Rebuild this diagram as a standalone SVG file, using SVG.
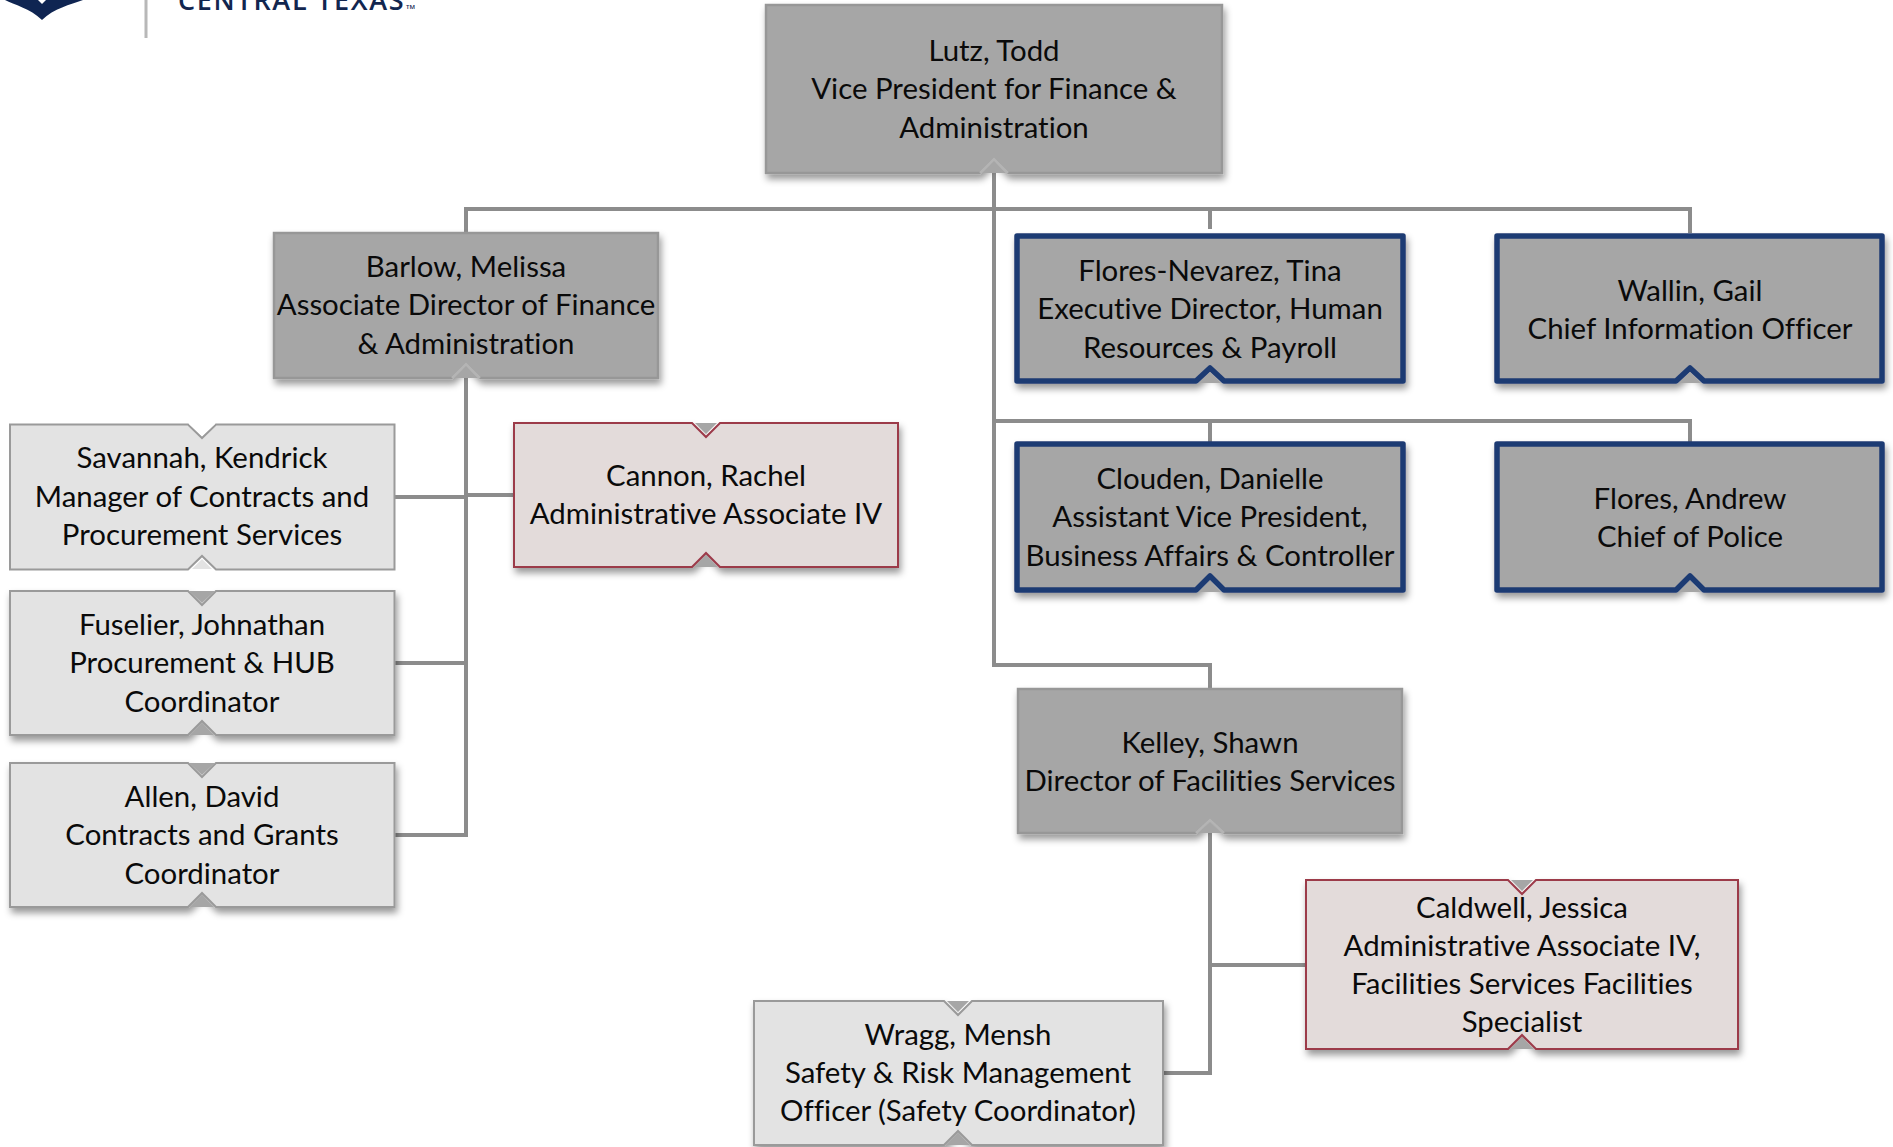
<svg xmlns="http://www.w3.org/2000/svg" width="1893" height="1147" viewBox="0 0 1893 1147">
<defs>
<filter id="sh" x="-5%" y="-5%" width="112%" height="125%"><feDropShadow dx="2" dy="5" stdDeviation="3.5" flood-color="#000" flood-opacity="0.4"/></filter>
</defs>
<style>
text{font-family:Lato,"Liberation Sans",sans-serif;font-size:29.4px;fill:#0a0a0a;text-anchor:middle;font-variant-ligatures:none;transform:translateY(.6px)}
.dark{fill:#a6a6a6;stroke:#979797;stroke-width:2.5}
.light{fill:#e3e3e3;stroke:#9a9a9a;stroke-width:2}
.pink{fill:#e3dbda;stroke:#9c3a4a;stroke-width:2}
.navy{fill:#a6a6a6;stroke:#1f3a73;stroke-width:5.5;stroke-linejoin:round}
.s{filter:url(#sh)}
.gn{fill:#a6a6a6;stroke:none}
.wn{fill:#fff;stroke:none}
.ln{fill:#e3e3e3;stroke:none}
.cr{fill:none;stroke:#b4b4b4;stroke-width:2.5}
#connectors path{fill:none;stroke:#8c8c8c;stroke-width:4}
#logo text{font-family:"Open Sans","Liberation Sans",sans-serif;font-weight:600;fill:#12264f;text-anchor:start}
</style>
<g id="logo">
<path d="M5 0C14 5 30 8 42 20C54 8 70 5 83 0Z" fill="#0f2552"/>
<path d="M38 0L42 4L46 0Z" fill="#fff"/>
<rect x="144.500" y="0" width="3" height="38" fill="#b8b8b8"/>
<text x="178" y="9.500" style="font-size:27px;letter-spacing:1.7px">CENTRAL TEXAS</text>
<text x="406" y="8.500" style="font-size:6px">TM</text>
</g>
<g id="connectors">
<path d="M994 173V665H1210V689"/>
<path d="M466 233V209H1690V233"/>
<path d="M1210 209V229"/>
<path d="M994 421H1690V442"/>
<path d="M1210 421V442"/>
<path d="M466 378V835H395"/>
<path d="M395 497H466"/>
<path d="M466 495H513"/>
<path d="M395 663H466"/>
<path d="M1210 833V1073H1163"/>
<path d="M1210 965H1305"/>
</g>
<g id="lutz">
<path class="dark s" d="M766 5H1222V173H1008L994 159L980 173H766Z"/>
<path class="gn" d="M982 173L994 161L1006 173Z"/><path class="cr" d="M980 173L994 159L1008 173"/>
<text x="994" y="60">Lutz, Todd</text><text x="994" y="98.500">Vice President for Finance &amp;</text><text x="994" y="137">Administration</text>
</g>
<g id="barlow">
<path class="dark s" d="M274 233H658V378H480L466 364L452 378H274Z"/>
<path class="gn" d="M454 378L466 366L478 378Z"/><path class="cr" d="M452 378L466 364L480 378"/>
<text x="466" y="276">Barlow, Melissa</text><text x="466" y="314.500">Associate Director of Finance</text><text x="466" y="353">&amp; Administration</text>
</g>
<g id="savannah">
<path class="light" d="M10 424.500H188L202 438L216 424.500H394.500V569.500H216L202 556L188 569.500H10Z"/>
<path class="wn" d="M189 424L202 436L215 424Z"/><path class="ln" d="M192 569L202 559L212 569Z"/>
<text x="202" y="467.500">Savannah, Kendrick</text><text x="202" y="506">Manager of Contracts and</text><text x="202" y="544.500">Procurement Services</text>
</g>
<g id="fuselier">
<path class="light s" d="M10 591H188L202 605L216 591H394.500V735H216L202 721L188 735H10Z"/>
<path class="gn" d="M189 591L202 603L215 591Z"/><path class="gn" d="M190 735L202 723L214 735Z"/>
<text x="202" y="634">Fuselier, Johnathan</text><text x="202" y="672.500">Procurement &amp; HUB</text><text x="202" y="711">Coordinator</text>
</g>
<g id="allen">
<path class="light s" d="M10 763H188L202 777L216 763H394.500V907H216L202 893L188 907H10Z"/>
<path class="gn" d="M189 763L202 775L215 763Z"/><path class="gn" d="M190 907L202 895L214 907Z"/>
<text x="202" y="806">Allen, David</text><text x="202" y="844.500">Contracts and Grants</text><text x="202" y="883">Coordinator</text>
</g>
<g id="cannon">
<path class="pink s" d="M514 423H692L706 437L720 423H898V567H720L706 553L692 567H514Z"/>
<path class="gn" d="M695 423L706 434L717 423Z"/><path class="gn" d="M694 567L706 555L718 567Z"/>
<text x="706" y="485">Cannon, Rachel</text><text x="706" y="523.500">Administrative Associate IV</text>
</g>
<g id="flores-nevarez">
<path class="navy s" d="M1017 236H1403V381H1224L1210 368L1196 381H1017Z"/>
<path class="gn" d="M1199 383L1210 372L1221 383Z"/>
<text x="1210" y="280">Flores-Nevarez, Tina</text><text x="1210" y="318.500">Executive Director, Human</text><text x="1210" y="357">Resources &amp; Payroll</text>
</g>
<g id="wallin">
<path class="navy s" d="M1497 236H1882V381H1704L1690 368L1676 381H1497Z"/>
<path class="gn" d="M1679 383L1690 372L1701 383Z"/>
<text x="1690" y="300">Wallin, Gail</text><text x="1690" y="338">Chief Information Officer</text>
</g>
<g id="clouden">
<path class="navy s" d="M1017 444H1403V590H1224L1210 576L1196 590H1017Z"/>
<path class="gn" d="M1199 592L1210 581L1221 592Z"/>
<text x="1210" y="488">Clouden, Danielle</text><text x="1210" y="526.500">Assistant Vice President,</text><text x="1210" y="565">Business Affairs &amp; Controller</text>
</g>
<g id="flores-andrew">
<path class="navy s" d="M1497 444H1882V590H1704L1690 576L1676 590H1497Z"/>
<path class="gn" d="M1679 592L1690 581L1701 592Z"/>
<text x="1690" y="508">Flores, Andrew</text><text x="1690" y="546">Chief of Police</text>
</g>
<g id="kelley">
<path class="dark s" d="M1018 689H1402V833H1224L1210 820L1196 833H1018Z"/>
<path class="gn" d="M1198 833L1210 822L1222 833Z"/><path class="cr" d="M1196 833L1210 820L1224 833"/>
<text x="1210" y="752">Kelley, Shawn</text><text x="1210" y="790">Director of Facilities Services</text>
</g>
<g id="caldwell">
<path class="pink s" d="M1306 880H1508L1522 894L1536 880H1738V1049H1536L1522 1035L1508 1049H1306Z"/>
<path class="gn" d="M1511 880L1522 891L1533 880Z"/><path class="gn" d="M1510 1049L1522 1038L1534 1049Z"/>
<text x="1522" y="917">Caldwell, Jessica</text><text x="1522" y="955.500">Administrative Associate IV,</text><text x="1522" y="993.500">Facilities Services Facilities</text><text x="1522" y="1031.500">Specialist</text>
</g>
<g id="wragg">
<path class="light s" d="M754 1001H944L958 1015L972 1001H1163V1145H972L958 1131L944 1145H754Z"/>
<path class="gn" d="M947 1001L958 1012L969 1001Z"/><path class="gn" d="M946 1145L958 1133L970 1145Z"/>
<text x="958" y="1044">Wragg, Mensh</text><text x="958" y="1082.500">Safety &amp; Risk Management</text><text x="958" y="1120.500">Officer (Safety Coordinator)</text>
</g>
</svg>
